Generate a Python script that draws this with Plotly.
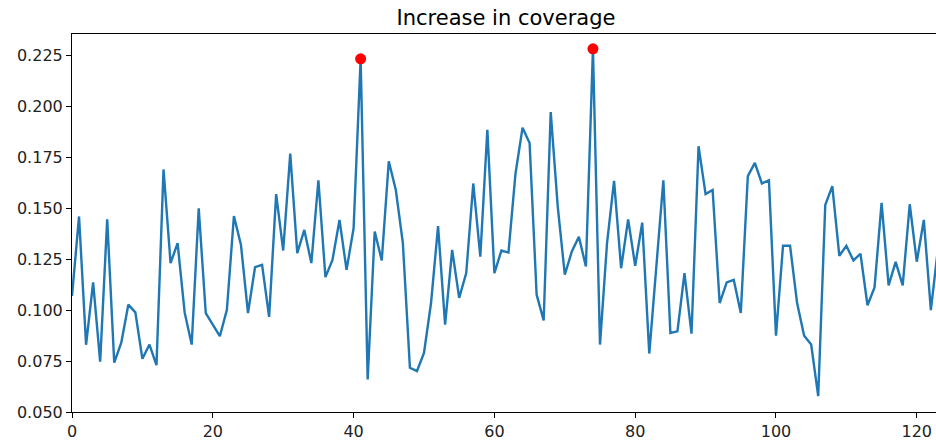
import plotly.graph_objects as go

x_vals = list(range(124))
coverage = [
    0.107, 0.146, 0.083, 0.1136, 0.0747, 0.1446, 0.0742, 0.084, 0.1027, 0.0989,
    0.0761, 0.0831, 0.073, 0.1691, 0.1231, 0.1329, 0.0989, 0.0831, 0.150, 0.0986,
    0.0929, 0.0872, 0.1002, 0.1462, 0.132, 0.0986, 0.1211, 0.1223, 0.0967, 0.157,
    0.1293, 0.1769, 0.128, 0.1394, 0.1231, 0.1638, 0.1162, 0.1247, 0.1443, 0.1198,
    0.1402, 0.2234, 0.066, 0.1386, 0.1244, 0.1731, 0.159, 0.1329, 0.0717, 0.0701,
    0.079, 0.1035, 0.1413, 0.0929, 0.1296, 0.106, 0.1182, 0.1622, 0.1263, 0.1886,
    0.1182, 0.1293, 0.1283, 0.1671, 0.1896, 0.1821, 0.1076, 0.095, 0.1973, 0.1508,
    0.1174, 0.1288, 0.1361, 0.1214, 0.2283, 0.0831, 0.1329, 0.1635, 0.1206, 0.1446,
    0.1218, 0.143, 0.0787, 0.1198, 0.1638, 0.0888, 0.0896, 0.1182, 0.0885, 0.1805,
    0.157, 0.159, 0.1035, 0.1136, 0.1149, 0.0986, 0.1658, 0.1723, 0.1622, 0.1638,
    0.0875, 0.1316, 0.1316, 0.1035, 0.0875, 0.0831, 0.0578, 0.1516, 0.1609, 0.1267,
    0.1316, 0.1244, 0.1277, 0.1024, 0.1112, 0.1527, 0.1122, 0.1237, 0.1122, 0.152,
    0.1238, 0.1443, 0.100, 0.130,
]
peak_idx = [41, 74]

x_ticks = [0, 20, 40, 60, 80, 100, 120]
y_ticks = [0.050, 0.075, 0.100, 0.125, 0.150, 0.175, 0.200, 0.225]
y_tick_text = ["%.3f" % v for v in y_ticks]

fig = go.Figure()
fig.add_trace(go.Scatter(
    x=x_vals, y=coverage, mode="lines",
    line=dict(color="#1f77b4", width=2.4),
    showlegend=False, hoverinfo="skip",
))
fig.add_trace(go.Scatter(
    x=[x_vals[i] for i in peak_idx], y=[coverage[i] for i in peak_idx],
    mode="markers", marker=dict(color="red", size=11, line=dict(width=0)),
    showlegend=False, cliponaxis=False,
))

font = "DejaVu Sans"
fig.update_layout(
    width=936, height=445,
    margin=dict(l=72, r=0, t=34, b=33),
    paper_bgcolor="white", plot_bgcolor="white",
    font=dict(family=font, color="black"),
    title=dict(text="Increase in coverage", x=0.5023, xanchor="center",
               xref="paper", y=1 - 17.5 / 445, yref="container", yanchor="middle",
               font=dict(family=font, size=21, color="black")),
)
fig.update_xaxes(
    range=[0, 122.73], tickvals=x_ticks, ticks="outside", ticklen=5, tickwidth=1.1,
    tickcolor="black", showline=True, linecolor="black", linewidth=1.1, mirror=True,
    showgrid=False, zeroline=False, tickfont=dict(family=font, size=16, color="#222"),
)
fig.update_yaxes(
    range=[0.05, 0.2356], tickvals=y_ticks, ticktext=y_tick_text, ticks="outside",
    ticklen=5, tickwidth=1.1, tickcolor="black", showline=True, linecolor="black",
    linewidth=1.1, mirror=False, showgrid=False, zeroline=False,
    tickfont=dict(family=font, size=16, color="#222"),
)
fig.write_html(
    "out.html",
    config={"displayModeBar": False},
    post_script="document.body.style.margin='0';document.body.style.overflow='hidden';",
)
